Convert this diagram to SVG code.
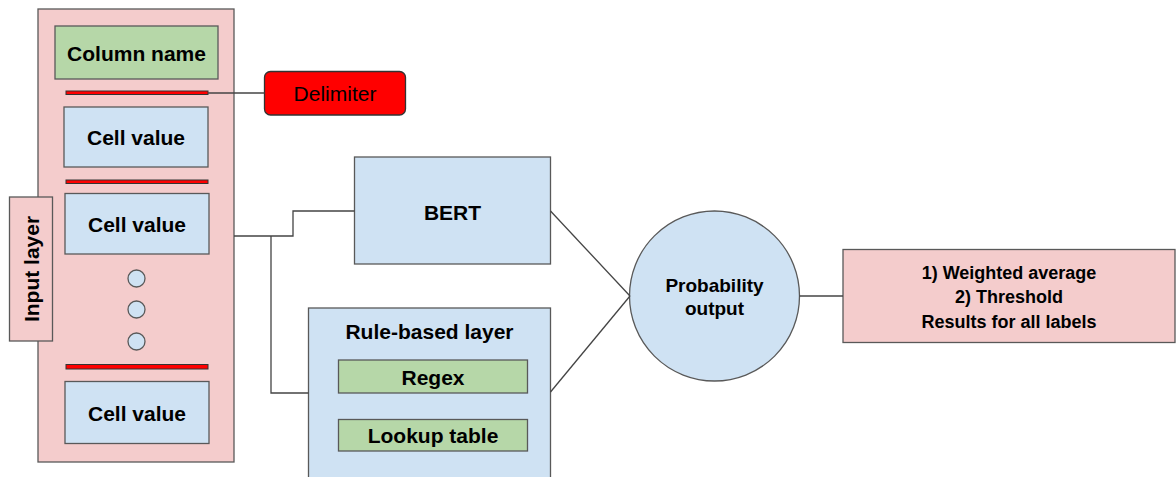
<svg xmlns="http://www.w3.org/2000/svg" width="1176" height="477" viewBox="0 0 1176 477">
<style>
.box{stroke:#595959;stroke-width:1.3}
.pink{fill:#f4cccc}
.green{fill:#b6d7a8}
.blue{fill:#cfe2f3}
.bar{fill:#ff0000;stroke:#333;stroke-width:1}
.t{font-family:"Liberation Sans",Arial,sans-serif;font-weight:bold;font-size:21px;fill:#000;text-anchor:middle;dominant-baseline:central}
.conn{fill:none;stroke:#444;stroke-width:1.3}
</style>
<rect width="1176" height="477" fill="#fff"/>
<g id="input-container">
<rect class="box pink" x="38" y="9" width="196" height="453"/>
</g>
<g id="column-name">
<rect class="box green" x="55" y="26" width="163" height="53"/>
<text class="t" x="136.5" y="53">Column name</text>
</g>
<g id="delimiter-bar-1"><rect class="bar" x="66" y="91" width="142" height="3.5"/></g>
<g id="cell-value-1">
<rect class="box blue" x="64" y="107" width="144" height="60"/>
<text class="t" x="136" y="137.5">Cell value</text>
</g>
<g id="delimiter-bar-2"><rect class="bar" x="66" y="180" width="142" height="3.5"/></g>
<g id="cell-value-2">
<rect class="box blue" x="65" y="193.5" width="144" height="60.5"/>
<text class="t" x="137" y="224">Cell value</text>
</g>
<g id="dots">
<circle class="box blue" cx="136.5" cy="278.5" r="8.5"/>
<circle class="box blue" cx="136.5" cy="309.5" r="8.5"/>
<circle class="box blue" cx="136.5" cy="341.5" r="8.5"/>
</g>
<g id="delimiter-bar-3"><rect class="bar" x="66" y="364.5" width="142" height="4.5"/></g>
<g id="cell-value-3">
<rect class="box blue" x="65" y="381.5" width="144" height="62"/>
<text class="t" x="137" y="413">Cell value</text>
</g>
<g id="input-layer">
<rect class="box pink" x="9.5" y="197" width="43" height="144"/>
<text class="t" transform="translate(31,269) rotate(-90)" x="0" y="0">Input layer</text>
</g>
<g id="delimiter">
<rect x="264.5" y="71.5" width="141" height="43.5" rx="6" fill="#ff0000" stroke="#333" stroke-width="1.3"/>
<text class="t" style="font-weight:normal" x="335" y="93.5">Delimiter</text>
</g>
<g id="bert">
<rect class="box blue" x="354.5" y="157" width="196" height="107"/>
<text class="t" x="452.5" y="212">BERT</text>
</g>
<g id="rule-based-layer">
<rect class="box blue" x="308.5" y="308" width="242" height="180"/>
<text class="t" x="429.5" y="331">Rule-based layer</text>
</g>
<g id="regex">
<rect class="box green" x="338.5" y="360" width="189" height="33"/>
<text class="t" x="433" y="377">Regex</text>
</g>
<g id="lookup-table">
<rect class="box green" x="338.5" y="419.5" width="189" height="31.5"/>
<text class="t" x="433" y="435.5">Lookup table</text>
</g>
<g id="probability-output">
<circle class="box blue" cx="714.5" cy="296" r="85"/>
<text class="t" style="font-size:19px" x="714.5" y="285">Probability</text>
<text class="t" style="font-size:19px" x="714.5" y="308">output</text>
</g>
<g id="results">
<rect class="box pink" x="843" y="249.5" width="332" height="93"/>
<text class="t" style="font-size:18px" x="1009" y="272.5">1) Weighted average</text>
<text class="t" style="font-size:18px" x="1009" y="297">2) Threshold</text>
<text class="t" style="font-size:18px" x="1009" y="321.5">Results for all labels</text>
</g>
<g id="connectors">
<line class="conn" x1="208" y1="93" x2="264.5" y2="93"/>
<polyline class="conn" points="234,236 293,236 293,211 354.5,211"/>
<polyline class="conn" points="271,236 271,393 308.5,393"/>
<line class="conn" x1="550.5" y1="211" x2="630" y2="296"/>
<line class="conn" x1="550.5" y1="392" x2="630" y2="296"/>
<line class="conn" x1="799.5" y1="296" x2="843" y2="296"/>
</g>
</svg>
